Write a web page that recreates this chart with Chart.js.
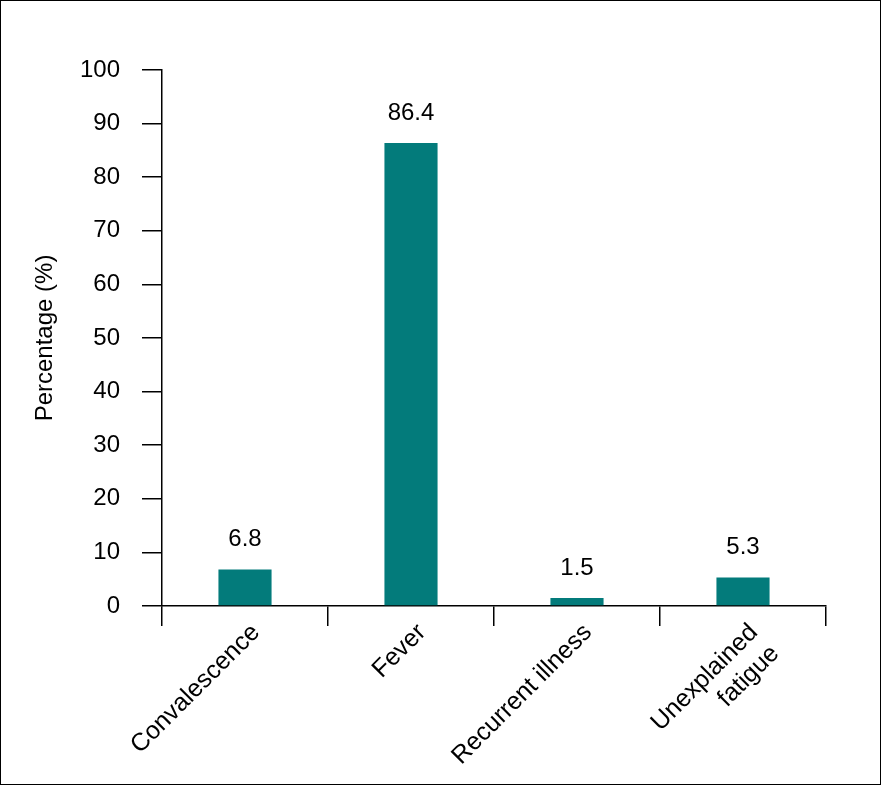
<!DOCTYPE html>
<html>
<head>
<meta charset="utf-8">
<script src="https://cdn.jsdelivr.net/npm/chart.js@4/dist/chart.umd.min.js"></script>
<style>
  html, body { margin: 0; padding: 0; background: #fff; }
  #wrap { width: 881px; height: 785px; }
</style>
</head>
<body>
<div id="wrap"><canvas id="chart" width="881" height="785"></canvas></div>
<script>
const categories = ["Convalescence", "Fever", "Recurrent illness", ["Unexplained", "fatigue"]];
const percentages = [6.8, 86.4, 1.5, 5.3];
const yTicks = [0, 10, 20, 30, 40, 50, 60, 70, 80, 90, 100];

const FONT = "'Liberation Sans', Arial, sans-serif";
const SIZE = 24;

// value labels above the bars
const valueLabels = {
  id: "valueLabels",
  afterDatasetsDraw(chart) {
    const ctx = chart.ctx;
    const meta = chart.getDatasetMeta(0);
    ctx.save();
    ctx.font = SIZE + "px " + FONT;
    ctx.fillStyle = "#000";
    ctx.textAlign = "center";
    ctx.textBaseline = "middle";
    meta.data.forEach((bar, i) => {
      ctx.fillText(percentages[i].toFixed(1), bar.x, bar.y - 30);
    });
    ctx.restore();
  }
};

// white background and outer frame
const frame = {
  id: "frame",
  beforeDraw(chart) {
    const ctx = chart.ctx;
    ctx.save();
    ctx.fillStyle = "#fff";
    ctx.fillRect(0, 0, chart.width, chart.height);
    ctx.restore();
  },
  afterDraw(chart) {
    const ctx = chart.ctx;
    ctx.save();
    ctx.strokeStyle = "#000";
    ctx.lineWidth = 1;
    ctx.strokeRect(0.5, 0.5, chart.width - 1, chart.height - 1);
    ctx.restore();
  }
};

new Chart(document.getElementById("chart"), {
  type: "bar",
  data: {
    labels: categories,
    datasets: [{
      data: percentages,
      backgroundColor: "#037b7b",
      borderWidth: 0,
      categoryPercentage: 1,
      barPercentage: 0.32
    }]
  },
  options: {
    responsive: false,
    animation: false,
    layout: { padding: { top: 70, right: 55, left: 0, bottom: 0 } },
    plugins: { legend: { display: false }, tooltip: { enabled: false } },
    scales: {
      x: {
        afterFit: s => { s.height = 179; },
        border: { display: true, color: "#000", width: 1.5 },
        grid: {
          offset: true,
          drawOnChartArea: false,
          drawTicks: true,
          tickLength: 20,
          color: "#000",
          lineWidth: 1.5
        },
        ticks: {
          color: "#000",
          font: { family: FONT, size: 25 },
          maxRotation: 45,
          minRotation: 45,
          labelOffset: 11,
          padding: -8
        }
      },
      y: {
        min: 0,
        max: 100,
        afterFit: s => { s.width = 162; },
        afterBuildTicks: s => { s.ticks = yTicks.map(v => ({ value: v })); },
        border: { display: true, color: "#000", width: 1.5 },
        grid: {
          drawOnChartArea: false,
          drawTicks: true,
          tickLength: 20,
          color: "#000",
          lineWidth: 1.5
        },
        ticks: {
          color: "#000",
          font: { family: FONT, size: SIZE },
          padding: 22
        },
        title: {
          display: true,
          text: "Percentage (%)",
          color: "#000",
          font: { family: FONT, size: SIZE },
          padding: { top: 31, bottom: 0 }
        }
      }
    }
  },
  plugins: [frame, valueLabels]
});
</script>
</body>
</html>
